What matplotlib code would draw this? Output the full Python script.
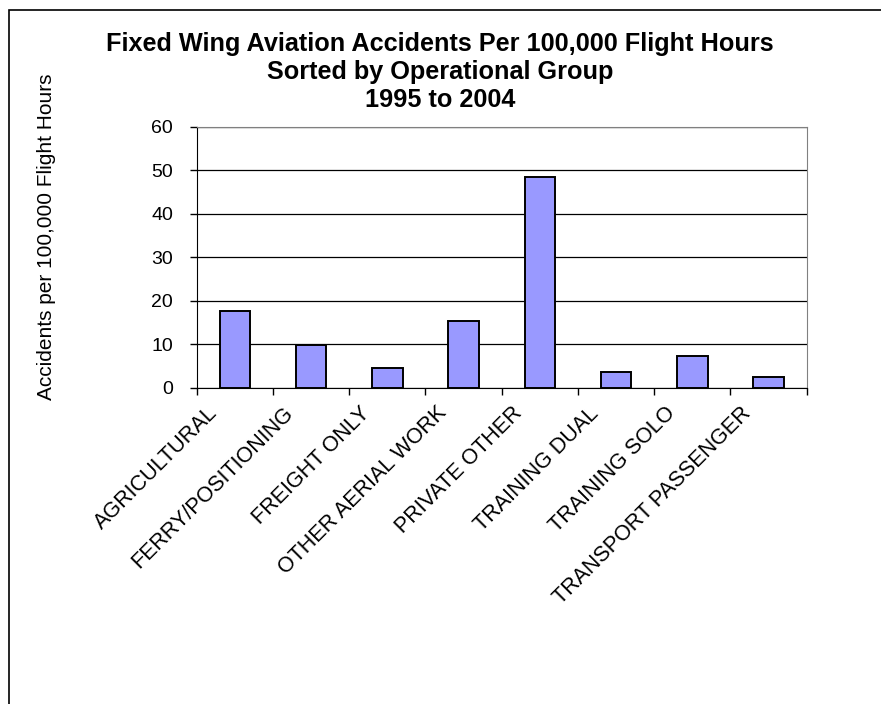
import matplotlib.pyplot as plt
from matplotlib.patches import Rectangle

# Duomenys
kategorijos = ["AGRICULTURAL", "FERRY/POSITIONING", "FREIGHT ONLY", "OTHER AERIAL WORK",
               "PRIVATE OTHER", "TRAINING DUAL", "TRAINING SOLO", "TRANSPORT PASSENGER"]
reiksmes = [17.6, 9.8, 4.6, 15.3, 48.5, 3.6, 7.4, 2.5]
y_ticks = [0, 10, 20, 30, 40, 50, 60]

plt.rcParams['font.family'] = ['Liberation Sans', 'DejaVu Sans']

fig = plt.figure(figsize=(8.81, 7.04), dpi=100)
W, H = 881, 704

# Išorinis rėmelis (matosi tik viršus ir kairė)
fig.patches.append(Rectangle((8.5 / W, -0.1), 1.2, 1 - 9.5 / H + 0.1, transform=fig.transFigure,
                             fill=False, edgecolor='black', linewidth=1.2))

ax = fig.add_axes([196.7 / W, 1 - 387.7 / H, (806.7 - 196.7) / W, (387.7 - 126.7) / H])

x = list(range(len(kategorijos)))
ax.bar(x, reiksmes, width=0.4, color='#9999FF', edgecolor='black', linewidth=1.4, zorder=3)

ax.set_xlim(-0.5, len(kategorijos) - 0.5)
ax.set_ylim(0, 60)
ax.set_yticks(y_ticks)
ax.tick_params(axis='y', labelsize=14, length=5, width=1, direction='out', pad=12)
ax.yaxis.grid(True, color='black', linewidth=0.9, zorder=0)

# x ašies padalos tarp kategorijų
ax.set_xticks([i - 0.5 for i in range(len(kategorijos) + 1)])
ax.set_xticklabels([])
ax.tick_params(axis='x', length=5, width=1, direction='out')
for i, k in enumerate(kategorijos):
    ax.annotate(k, xy=(i, 0), xycoords=('data', 'axes fraction'),
                xytext=(-12, -19), textcoords='offset points',
                rotation=45, rotation_mode='anchor', ha='right', va='baseline', fontsize=15.5)

for s in ['top', 'right']:
    ax.spines[s].set_color('#808080')
for s in ['left', 'bottom']:
    ax.spines[s].set_color('black')

fig.text(47 / W, 1 - 237 / H, "Accidents per 100,000 Flight Hours", rotation=90,
         ha='center', va='center', fontsize=15)

fig.text(440 / W, 1 - 51 / H, "Fixed Wing Aviation Accidents Per 100,000 Flight Hours",
         ha='center', va='baseline', fontsize=18.2, fontweight='bold')
fig.text(440 / W, 1 - 79 / H, "Sorted by Operational Group",
         ha='center', va='baseline', fontsize=18.2, fontweight='bold')
fig.text(440 / W, 1 - 107 / H, "1995 to 2004",
         ha='center', va='baseline', fontsize=18.2, fontweight='bold')

fig.savefig("out.png", dpi=100)
